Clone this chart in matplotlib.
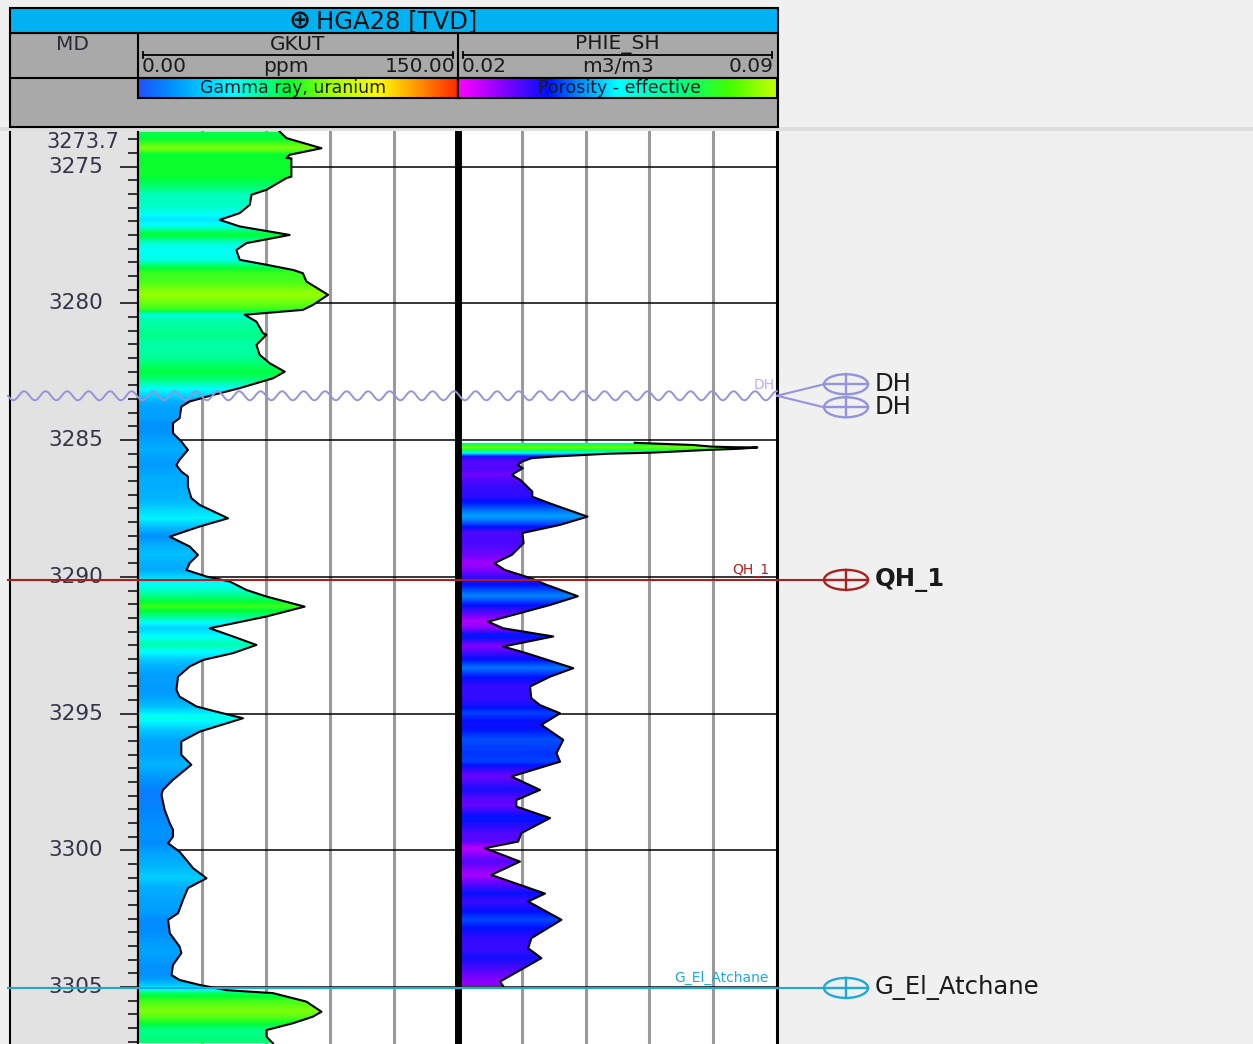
import numpy as np
import matplotlib.pyplot as plt
import matplotlib.transforms as mtransforms
from matplotlib.colors import LinearSegmentedColormap
from matplotlib.patches import Ellipse, Rectangle, Polygon

well_name = 'HGA28 [TVD]'
md_top, md_bot = 3273.7, 3307.08
md_major = [3275, 3280, 3285, 3290, 3295, 3300, 3305]

track_names = ['GKUT', 'PHIE_SH']
track_units = ['ppm', 'm3/m3']
track_min = [0.0, 0.02]
track_max = [150.0, 0.09]
track_desc = ['Gamma ray, uranium', 'Porosity - effective']

# GKUT, gamma ray uranium (ppm)
gk_depth = [3273.72, 3273.96, 3274.33, 3274.57, 3274.69, 3274.70, 3275.37, 3275.42, 3275.85, 3276.03,
            3276.40, 3276.70, 3276.95, 3277.19, 3277.50, 3277.80, 3278.05, 3278.41, 3278.59, 3278.78,
            3278.90, 3279.20, 3279.69, 3280.06, 3280.24, 3280.42, 3280.67, 3281.09, 3281.15, 3281.52,
            3281.88, 3282.19, 3282.50, 3282.74, 3283.10, 3283.35, 3283.59, 3283.78, 3284.20, 3284.38,
            3284.75, 3285.05, 3285.36, 3285.72, 3285.91, 3286.15, 3286.33, 3286.70, 3287.12, 3287.37,
            3287.86, 3288.16, 3288.53, 3288.71, 3288.89, 3289.20, 3289.50, 3289.75, 3289.99, 3290.17,
            3290.48, 3290.72, 3291.09, 3291.45, 3291.88, 3292.18, 3292.49, 3292.79, 3293.04, 3293.28,
            3293.65, 3294.13, 3294.38, 3294.74, 3294.93, 3295.17, 3295.66, 3296.02, 3296.51, 3296.87,
            3297.12, 3297.42, 3297.79, 3297.97, 3298.52, 3299.01, 3299.25, 3299.50, 3299.74, 3300.05,
            3300.65, 3301.02, 3301.38, 3301.81, 3302.30, 3302.54, 3303.03, 3303.52, 3303.76, 3304.19,
            3304.56, 3304.74, 3304.92, 3305.11, 3305.22, 3305.53, 3305.90, 3306.08, 3306.32, 3306.57,
            3306.81, 3307.06]
gk_value = [66.4, 69.6, 86.0, 71.1, 69.6, 71.9, 71.9, 69.6, 60.2, 53.2,
            52.4, 47.7, 38.3, 47.7, 71.1, 50.8, 46.1, 47.7, 60.2, 72.7,
            77.3, 78.9, 89.1, 82.0, 77.3, 50.0, 55.5, 58.6, 60.2, 55.5,
            57.0, 61.7, 68.8, 63.3, 47.7, 35.2, 24.2, 20.3, 19.5, 16.4,
            16.4, 20.3, 23.4, 19.5, 18.0, 20.3, 23.4, 23.4, 25.0, 28.9,
            42.2, 28.9, 14.9, 19.5, 24.2, 28.1, 24.2, 22.7, 32.1, 43.0,
            50.8, 60.2, 78.1, 60.2, 33.6, 44.5, 55.5, 44.5, 30.5, 24.2,
            18.75, 18.0, 19.5, 27.4, 36.75, 49.2, 28.9, 20.3, 20.3, 25.0,
            21.1, 16.4, 11.7, 11.0, 12.5, 14.9, 16.4, 16.4, 14.1, 19.5,
            25.8, 32.1, 23.4, 21.1, 18.75, 14.1, 14.9, 19.5, 20.3, 16.4,
            15.7, 19.5, 28.9, 41.4, 63.3, 78.9, 86.0, 82.0, 72.7, 60.2,
            60.2, 63.3]

# PHIE_SH, effective porosity (m3/m3)
phie_depth = [3285.10, 3285.18, 3285.24, 3285.26, 3285.27, 3285.32, 3285.36, 3285.42, 3285.46, 3285.50,
              3285.60, 3285.66, 3285.79, 3285.91, 3286.03, 3286.27, 3286.46, 3286.88, 3287.07, 3287.31,
              3287.80, 3288.10, 3288.40, 3288.77, 3289.20, 3289.50, 3289.75, 3290.05, 3290.29, 3290.71,
              3291.03, 3291.64, 3291.88, 3292.18, 3292.55, 3292.79, 3293.34, 3293.65, 3294.01, 3294.44,
              3294.69, 3294.99, 3295.41, 3295.96, 3296.45, 3296.76, 3297.30, 3297.79, 3298.16, 3298.40,
              3298.82, 3299.37, 3299.68, 3299.92, 3300.41, 3300.90, 3301.58, 3301.87, 3302.54, 3303.21,
              3303.58, 3303.94, 3304.80, 3304.96]
phie_value = [0.0588, 0.0716, 0.0758, 0.0804, 0.0857, 0.0815, 0.0749, 0.0676, 0.0626, 0.0529,
              0.0413, 0.0362, 0.0340, 0.0331, 0.0342, 0.0318, 0.0337, 0.0363, 0.0363, 0.0401,
              0.0484, 0.0424, 0.0341, 0.0344, 0.0318, 0.0280, 0.0303, 0.0360, 0.0394, 0.0463,
              0.0402, 0.0266, 0.0299, 0.0409, 0.0299, 0.0350, 0.0453, 0.0402, 0.0358, 0.0361,
              0.0380, 0.0424, 0.0383, 0.0431, 0.0416, 0.0424, 0.0317, 0.0380, 0.0328, 0.0328,
              0.0402, 0.0339, 0.0332, 0.0259, 0.0336, 0.0273, 0.0391, 0.0354, 0.0427, 0.0361,
              0.0354, 0.0383, 0.0292, 0.0299]

# well tops
top_names = ['DH', 'QH_1', 'G_El_Atchane']
top_depths = [3283.38, 3290.11, 3305.03]
top_colors = ['#9494dc', '#a82020', '#1fa9d6']

gk_cmap = LinearSegmentedColormap.from_list('gk', [
    (0.0, '#2050ff'), (0.1, '#0090ff'), (0.2, '#00c8ff'), (0.3, '#00ffff'), (0.47, '#00ff30'),
    (0.6, '#a0ff00'), (0.75, '#ffff00'), (0.88, '#ff9000'), (1.0, '#ff2800')])
phie_cmap = LinearSegmentedColormap.from_list('phie', [
    (0.0, '#ff00ff'), (0.13, '#9000ff'), (0.28, '#0010ff'), (0.37, '#0080ff'),
    (0.5, '#00ffff'), (0.7, '#00ff80'), (0.85, '#40ff00'), (1.0, '#c8ff00')])
cmaps = [gk_cmap, phie_cmap]

# ---------------- layout (pixels) ----------------
W, H = 1253, 1044
TOP, BOT = 131, 1044
X_MD, X_GK, X_PH, X_END = 10, 138, 458, 777
px_per_m = (BOT - TOP) / (md_bot - md_top)

fig = plt.figure(figsize=(W / 100, H / 100), dpi=100, facecolor='#f0f0f0')


def px_axes(x0, y0, x1, y1, **kw):
    return fig.add_axes([x0 / W, 1 - y1 / H, (x1 - x0) / W, (y1 - y0) / H], **kw)


def style_track(ax, lw_left, lw_right):
    ax.set_ylim(md_bot, md_top)
    ax.set_xticks([])
    ax.set_yticks([])
    ax.spines['top'].set_visible(False)
    ax.spines['bottom'].set_visible(False)
    ax.spines['left'].set_linewidth(lw_left)
    ax.spines['right'].set_linewidth(lw_right)
    ax.spines['left'].set_color('black')
    ax.spines['right'].set_color('black')


def log_fill(ax, depth, value, lo, hi, cmap):
    depth = np.asarray(depth)
    value = np.asarray(value)
    verts = [(lo, depth[0])] + list(zip(value, depth)) + [(lo, depth[-1])]
    clip = Polygon(verts, closed=True, facecolor='none', edgecolor='none')
    ax.add_patch(clip)
    fine = np.linspace(depth[0], depth[-1], 2000)
    col = np.interp(fine, depth, value)[:, None]
    im = ax.imshow(col, cmap=cmap, vmin=lo, vmax=hi, aspect='auto',
                   extent=[lo, hi, fine[-1], fine[0]], interpolation='bilinear', zorder=2)
    im.set_clip_path(clip)
    ax.plot(value, depth, color='black', lw=1.5, zorder=3)


# ---------------- MD track ----------------
ax_md = px_axes(X_MD, TOP, X_GK, BOT)
ax_md.set_facecolor('#e2e2e2')
style_track(ax_md, 1.5, 1.5)
ax_md.set_xlim(0, 1)
ax_md.set_yticks(md_major)
ax_md.set_yticks(np.arange(3274.0, 3307.01, 0.5), minor=True)
ax_md.tick_params(axis='y', which='both', direction='in', left=False, right=True,
                  labelleft=False, color='#333333', width=1.4)
ax_md.tick_params(axis='y', which='major', length=13)
ax_md.tick_params(axis='y', which='minor', length=7)
trans_md = mtransforms.blended_transform_factory(ax_md.transAxes, ax_md.transData)
for d in md_major:
    ax_md.text(0.725, d, f'{d}', transform=trans_md, ha='right', va='center',
               fontsize=15.5, color='#33334a')
ax_md.text(0.85, md_top + 0.02, f'{md_top}', transform=trans_md, ha='right', va='top',
           fontsize=15, color='#33334a')

# ---------------- curve tracks ----------------
track_x = [(X_GK, X_PH), (X_PH, X_END)]
track_data = [(gk_depth, gk_value), (phie_depth, phie_value)]
for i, (x0, x1) in enumerate(track_x):
    ax = px_axes(x0, TOP, x1, BOT)
    ax.set_facecolor('white')
    style_track(ax, 1.5 if i == 0 else 5, 1.5 if i == 0 else 2.2)
    lo, hi = track_min[i], track_max[i]
    for g in np.linspace(lo, hi, 6)[1:-1]:
        ax.axvline(g, color='#9a9a9a', lw=2.2, zorder=1)
    for d in md_major:
        ax.axhline(d, color='black', lw=1.1, zorder=1)
    depth, value = track_data[i]
    log_fill(ax, depth, value, lo, hi, cmaps[i])
    ax.set_xlim(lo, hi)
    ax.set_ylim(md_bot, md_top)

# ---------------- well tops overlay ----------------
ov = px_axes(0, TOP, W, BOT)
ov.set_xlim(0, W)
ov.set_ylim(md_bot, md_top)
ov.axis('off')
ov.patch.set_alpha(0)

MX, MW, MH = 846, 44, 20 / px_per_m


def top_marker(xc, d, color):
    ov.add_patch(Ellipse((xc, d), MW, MH, fill=False, ec=color, lw=1.7))
    ov.plot([xc - MW / 2, xc + MW / 2], [d, d], color=color, lw=1.7)
    ov.plot([xc, xc], [d - MH / 2, d + MH / 2], color=color, lw=1.7)


for name, d, c in zip(top_names, top_depths, top_colors):
    if name == 'DH':
        xs = np.linspace(8, X_END, 1500)
        wave = d + (4.5 / px_per_m) * np.sin(2 * np.pi * (xs - 8) / 21.5)
        ov.plot(xs, wave, color=c, lw=1.4)
        ov.text(X_END - 2, d - 4 / px_per_m, name, ha='right', va='bottom',
                fontsize=10, color='#c8a8f0')
        for off in [-11.5, 11.5]:
            dm = d + off / px_per_m
            ov.plot([X_END, MX - MW / 2], [d, dm], color=c, lw=1.5)
            top_marker(MX, dm, c)
            ov.text(875, dm, name, ha='left', va='center', fontsize=17.5, color='#1a1a1a')
    else:
        ov.plot([8, MX - MW / 2], [d, d], color=c, lw=1.5)
        top_marker(MX, d, c)
        ov.text(X_END - 8, d - 2.5 / px_per_m, name, ha='right', va='bottom',
                fontsize=10, color=c if name != 'QH_1' else '#b02020')
        ov.text(875, d, name, ha='left', va='center', fontsize=17.5, color='#1a1a1a',
                fontweight='bold' if name == 'QH_1' else 'normal')

# ---------------- header ----------------
hd = px_axes(0, 0, W, TOP)
hd.set_xlim(0, W)
hd.set_ylim(TOP, 0)
hd.axis('off')
hd.patch.set_alpha(0)

hd.add_patch(Rectangle((0, 127), W, 4, facecolor='#dedede', edgecolor='none'))
hd.add_patch(Rectangle((X_MD, 33), X_END + 1 - X_MD, 94, facecolor='#a9a9a9',
                       edgecolor='black', lw=1.5))
hd.add_patch(Rectangle((X_MD, 8), X_END + 1 - X_MD, 25, facecolor='#00b2f2',
                       edgecolor='black', lw=1.5))
hd.text(300, 21, '\u2295', ha='center', va='center', fontsize=19, fontweight='bold',
        color='#101010')
hd.text(316, 21, well_name, ha='left', va='center', fontsize=17.5, color='#101010')
hd.plot([X_MD, X_END], [78, 78], color='black', lw=1.5)
hd.text(73, 45, 'MD', ha='center', va='center', fontsize=14.5, color='#2a2a3a')

for i, (x0, x1) in enumerate(track_x):
    hd.plot([x0, x0], [33, 98], color='black', lw=1.5)
    xc = (x0 + x1) / 2
    hd.text(xc, 45, track_names[i], ha='center', va='center', fontsize=14.5, color='#1a1a1a')
    hd.plot([x0 + 5, x1 - 5], [55, 55], color='black', lw=1.3)
    for xe in (x0 + 5, x1 - 5):
        hd.plot([xe, xe], [52, 58], color='black', lw=1.3)
    hd.text(x0 + 4, 66, f'{track_min[i]:.2f}', ha='left', va='center', fontsize=14.5, color='#1a1a1a')
    hd.text(xc - 12 if i == 0 else xc, 66, track_units[i], ha='center', va='center',
            fontsize=14.5, color='#1a1a1a')
    hd.text(x1 - 3, 66, f'{track_max[i]:.2f}', ha='right', va='center', fontsize=14.5, color='#1a1a1a')
    grad = np.linspace(0, 1, 256)[None, :]
    hd.imshow(grad, cmap=cmaps[i], aspect='auto', extent=[x0, x1, 98, 78], zorder=2)
    hd.add_patch(Rectangle((x0, 78), x1 - x0, 20, fill=False, edgecolor='black', lw=1.5, zorder=3))
    hd.text(xc - 5 if i == 0 else xc + 2, 88, track_desc[i], ha='center', va='center',
            fontsize=12.5, color='#1a1a2a', zorder=4)
hd.set_xlim(0, W)
hd.set_ylim(TOP, 0)

fig.savefig('out.png', dpi=100, facecolor=fig.get_facecolor())
